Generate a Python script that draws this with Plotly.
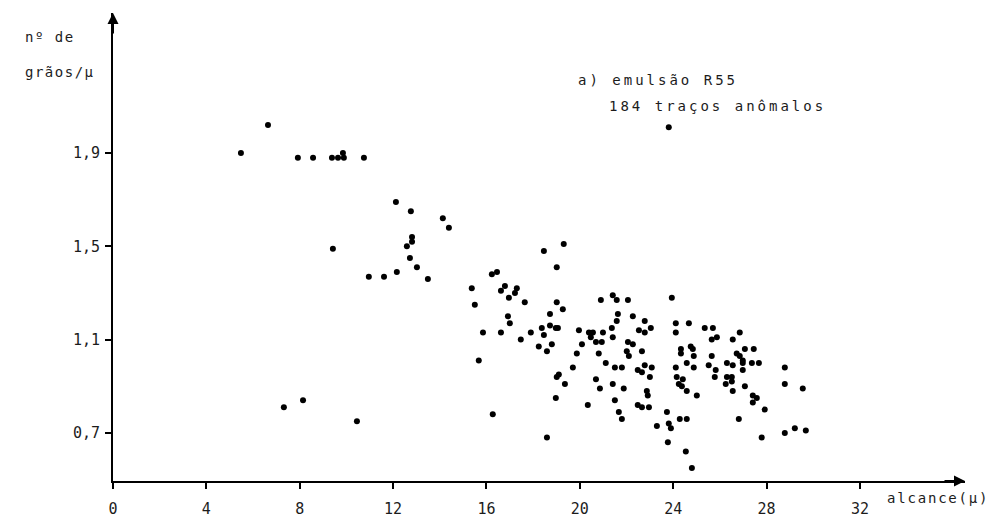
import plotly.graph_objects as go

# alcance (μ) of each anomalous track
alcance = [
    6.64, 5.48, 7.92, 8.57, 9.38, 9.64, 9.85, 9.89, 10.75, 12.12,
    12.76, 14.13, 14.39, 12.81, 12.81, 12.59, 9.42, 12.72, 13.02, 10.96,
    11.61, 12.16, 13.49, 7.32, 8.14, 10.45, 16.27, 19.31, 18.46, 19.01,
    16.23, 16.45, 15.37, 15.50, 16.62, 16.79, 17.30, 17.22, 16.96, 17.64,
    19.01, 19.27, 18.72, 16.92, 17.00, 15.85, 16.62, 17.47, 17.90, 18.37,
    18.72, 18.46, 18.97, 19.06, 18.80, 18.24, 18.59, 15.67, 19.87, 19.70,
    19.01, 19.10, 19.36, 18.97, 18.59, 20.90, 21.41, 21.58, 22.06, 23.94,
    21.63, 21.58, 22.27, 22.78, 19.96, 20.39, 20.56, 20.47, 20.99, 21.37,
    21.41, 20.09, 20.69, 20.94, 22.53, 22.78, 23.04, 22.06, 22.27, 22.66,
    20.81, 21.11, 21.50, 21.80, 22.01, 22.10, 22.48, 22.66, 22.78, 23.08,
    23.00, 20.69, 20.86, 21.41, 21.88, 20.34, 21.50, 21.67, 21.80, 22.48,
    22.66, 22.96, 22.87, 22.91, 23.73, 23.30, 23.81, 23.90, 23.77, 24.11,
    24.67, 24.11, 25.35, 25.70, 25.65, 25.87, 26.85, 26.55, 24.33, 24.33,
    24.75, 24.84, 24.88, 25.65, 26.72, 26.85, 26.98, 27.07, 27.45, 24.11,
    24.58, 24.88, 24.15, 24.41, 24.24, 24.37, 24.58, 25.01, 24.28, 24.58,
    24.54, 24.80, 25.52, 25.82, 25.78, 26.30, 26.55, 26.30, 26.51, 26.25,
    26.51, 26.55, 26.98, 27.07, 26.81, 27.41, 27.58, 27.41, 27.92, 27.79,
    26.98, 27.37, 27.67, 28.78, 28.78, 29.55, 28.78, 29.21, 29.68, 23.81,
]

# number of grains per μ for the same tracks
graos = [
    2.02, 1.90, 1.88, 1.88, 1.88, 1.88, 1.90, 1.88, 1.88, 1.69,
    1.65, 1.62, 1.58, 1.54, 1.52, 1.50, 1.49, 1.45, 1.41, 1.37,
    1.37, 1.39, 1.36, 0.81, 0.84, 0.75, 0.78, 1.51, 1.48, 1.41,
    1.38, 1.39, 1.32, 1.25, 1.31, 1.33, 1.32, 1.30, 1.28, 1.26,
    1.26, 1.23, 1.21, 1.20, 1.17, 1.13, 1.13, 1.10, 1.13, 1.15,
    1.16, 1.12, 1.15, 1.15, 1.08, 1.07, 1.05, 1.01, 1.04, 0.98,
    0.94, 0.95, 0.91, 0.85, 0.68, 1.27, 1.29, 1.27, 1.27, 1.28,
    1.21, 1.18, 1.20, 1.18, 1.14, 1.13, 1.13, 1.11, 1.13, 1.15,
    1.11, 1.08, 1.09, 1.09, 1.14, 1.13, 1.15, 1.09, 1.08, 1.05,
    1.04, 1.00, 0.98, 0.98, 1.05, 1.03, 0.97, 0.96, 0.99, 0.98,
    0.94, 0.93, 0.89, 0.91, 0.89, 0.82, 0.84, 0.79, 0.76, 0.82,
    0.81, 0.81, 0.88, 0.86, 0.79, 0.73, 0.74, 0.72, 0.66, 1.17,
    1.17, 1.13, 1.15, 1.15, 1.10, 1.11, 1.13, 1.10, 1.06, 1.04,
    1.07, 1.06, 1.03, 1.03, 1.04, 1.03, 1.01, 1.06, 1.06, 0.98,
    1.00, 0.98, 0.94, 0.93, 0.91, 0.90, 0.88, 0.86, 0.76, 0.76,
    0.62, 0.55, 0.99, 0.97, 0.94, 1.00, 0.99, 0.94, 0.94, 0.91,
    0.92, 0.88, 0.97, 0.90, 0.76, 0.86, 0.85, 0.83, 0.80, 0.68,
    1.00, 1.00, 1.00, 0.98, 0.91, 0.89, 0.70, 0.72, 0.71, 2.01,
]

x_ticks = [0, 4, 8, 12, 16, 20, 24, 28, 32]
x_tick_labels = ["0", "4", "8", "12", "16", "20", "24", "28", "32"]
y_ticks = [0.7, 1.1, 1.5, 1.9]
y_tick_labels = ["0,7", "1,1", "1,5", "1,9"]

X_RANGE = [0, 36.5]
Y_RANGE = [0.494, 2.5]

INK = "#1c1c1c"
MONO = "DejaVu Sans Mono"


def spaced(text, px):
    return f'<span style="letter-spacing:{px}px">{text}</span>'


fig = go.Figure()
fig.add_trace(go.Scatter(
    x=alcance, y=graos, mode="markers",
    marker=dict(size=6, color="black", line=dict(width=0)),
    hoverinfo="x+y", showlegend=False, cliponaxis=False,
))

axis_common = dict(
    showline=True, linecolor="black", linewidth=2,
    ticks="outside", ticklen=6, tickwidth=2, tickcolor="black",
    showgrid=False, zeroline=False, fixedrange=True, automargin=False,
    tickfont=dict(family=MONO, size=15, color=INK),
)

fig.update_layout(
    width=1007, height=524, autosize=False,
    margin=dict(l=113, r=42, t=13, b=43),
    paper_bgcolor="white", plot_bgcolor="white",
    xaxis=dict(range=X_RANGE, tickvals=x_ticks, ticktext=x_tick_labels,
               ticklabelstandoff=7, **axis_common),
    yaxis=dict(range=Y_RANGE, tickvals=y_ticks, ticktext=y_tick_labels,
               ticklabelstandoff=2, **axis_common),
    font=dict(family=MONO, color=INK),
)

# arrowheads at the ends of both axes
fig.add_annotation(x=X_RANGE[1], y=Y_RANGE[0], xref="x", yref="y",
                   ax=-22, ay=0, text="", showarrow=True, arrowhead=2,
                   arrowsize=1.1, arrowwidth=2, arrowcolor="black")
fig.add_annotation(x=X_RANGE[0], y=Y_RANGE[1], xref="x", yref="y",
                   ax=0, ay=22, text="", showarrow=True, arrowhead=2,
                   arrowsize=1.1, arrowwidth=2, arrowcolor="black")

text_font = dict(family=MONO, size=14, color=INK)

# axis titles
fig.add_annotation(x=-0.106, y=0.949, xref="paper", yref="paper",
                   xanchor="left", yanchor="middle", showarrow=False,
                   text=spaced("nº de", 1.5), font=text_font)
fig.add_annotation(x=-0.106, y=0.874, xref="paper", yref="paper",
                   xanchor="left", yanchor="middle", showarrow=False,
                   text=spaced("grãos/μ", 1.5), font=text_font)
fig.add_annotation(x=0.906, y=-0.036, xref="paper", yref="paper",
                   xanchor="left", yanchor="middle", showarrow=False,
                   text=spaced("alcance(μ)", 1.8), font=text_font)

# sample description
fig.add_annotation(x=0.543, y=0.857, xref="paper", yref="paper",
                   xanchor="left", yanchor="middle", showarrow=False,
                   text=spaced("a) emulsão R55", 3), font=text_font)
fig.add_annotation(x=0.580, y=0.801, xref="paper", yref="paper",
                   xanchor="left", yanchor="middle", showarrow=False,
                   text=spaced("184 traços anômalos", 3), font=text_font)

fig.write_html("out.html")
